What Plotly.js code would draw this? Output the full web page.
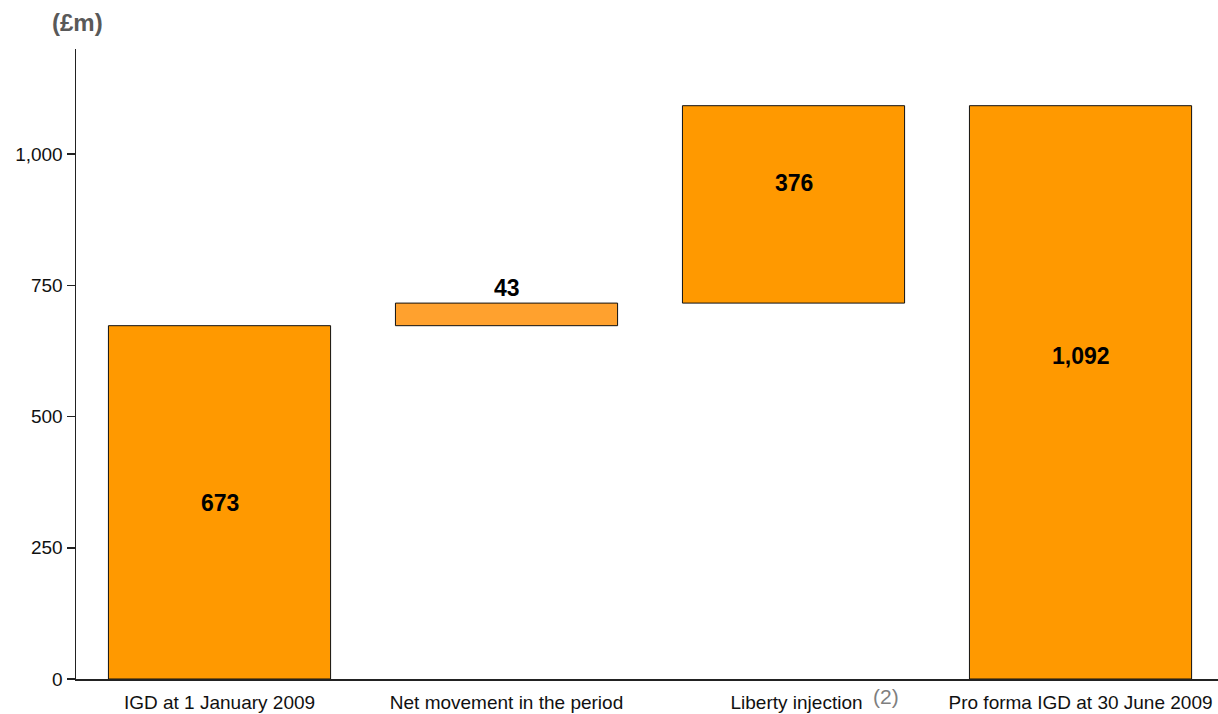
<!DOCTYPE html>
<html>
<head>
<meta charset="utf-8">
<script src="https://cdn.plot.ly/plotly-3.0.1.min.js"></script>
<style>html,body{margin:0;padding:0;background:#fff;}#chart{width:1218px;height:714px;}</style>
</head>
<body>
<div id="chart"></div>
<script>
// Data
var categories = ["IGD at 1 January 2009", "Net movement in the period", "Liberty injection", "Pro forma IGD at 30 June 2009"];
var tickLabels = ["IGD at 1 January 2009", "Net movement in the period",
  "&nbsp;&nbsp;&nbsp;&nbsp;&nbsp;&nbsp;&nbsp;&nbsp;Liberty injection&nbsp; <span style=\"color:#7f7f7f;font-size:21px;baseline-shift:5px\">(2)</span>",
  "Pro forma IGD at 30 June 2009"];
var values = [673, 43, 376, 1092];
var measures = ["absolute", "relative", "relative", "total"];
var valueLabels = ["673", "43", "376", "1,092"];
var barColors = ["#FF9900", "#FFA12E", "#FF9900", "#FF9900"];

// compute bases from measures
var bases = [], running = 0;
for (var i = 0; i < values.length; i++) {
  if (measures[i] === "absolute") { bases.push(0); running = values[i]; }
  else if (measures[i] === "relative") { bases.push(running); running += values[i]; }
  else { bases.push(0); }
}

// label vertical placement (layout)
var labelY = [335, 745, 945, 615];

var xs = categories.map(function (c, i) { return i; });

var trace = {
  type: "bar",
  x: xs,
  y: values,
  base: bases,
  width: 0.774,
  marker: { color: barColors, line: { color: "#111", width: 1 } },
  hoverinfo: "skip"
};

var annotations = valueLabels.map(function (t, i) {
  return {
    x: xs[i], y: labelY[i], xref: "x", yref: "y",
    text: "<b>" + t + "</b>", showarrow: false,
    font: { family: "Liberation Sans, Arial, sans-serif", size: 23, color: "#000" }
  };
});
annotations.push({
  xref: "paper", yref: "paper", x: 0, y: 1, xshift: 1, yshift: 27,
  xanchor: "center", yanchor: "middle",
  text: "<b>(£m)</b>", showarrow: false,
  font: { family: "Liberation Sans, Arial, sans-serif", size: 24, color: "#595959" }
});

var layout = {
  width: 1218, height: 714,
  margin: { l: 76, r: 0, t: 49, b: 35, pad: 0 },
  paper_bgcolor: "#fff", plot_bgcolor: "#fff",
  showlegend: false,
  font: { family: "Liberation Sans, Arial, sans-serif", size: 19, color: "#000" },
  xaxis: {
    type: "linear",
    range: [-0.5, 3.479],
    tickmode: "array",
    tickvals: xs,
    ticktext: tickLabels,
    showgrid: false, zeroline: false,
    showline: true, linecolor: "#222", linewidth: 1.5,
    ticks: "", ticklen: 0,
    ticklabelstandoff: 6,
    tickfont: { size: 19, color: "#111" },
    fixedrange: true
  },
  yaxis: {
    range: [0, 1200],
    tickvals: [0, 250, 500, 750, 1000],
    ticktext: ["0", "250", "500", "750", "1,000"],
    showgrid: false, zeroline: false,
    showline: true, linecolor: "#222", linewidth: 1.5,
    ticks: "outside", ticklen: 8, tickcolor: "#222", tickwidth: 1.5,
    tickfont: { size: 19, color: "#111" },
    fixedrange: true
  },
  annotations: annotations
};

Plotly.newPlot("chart", [trace], layout, { staticPlot: true, displayModeBar: false });
</script>
</body>
</html>
